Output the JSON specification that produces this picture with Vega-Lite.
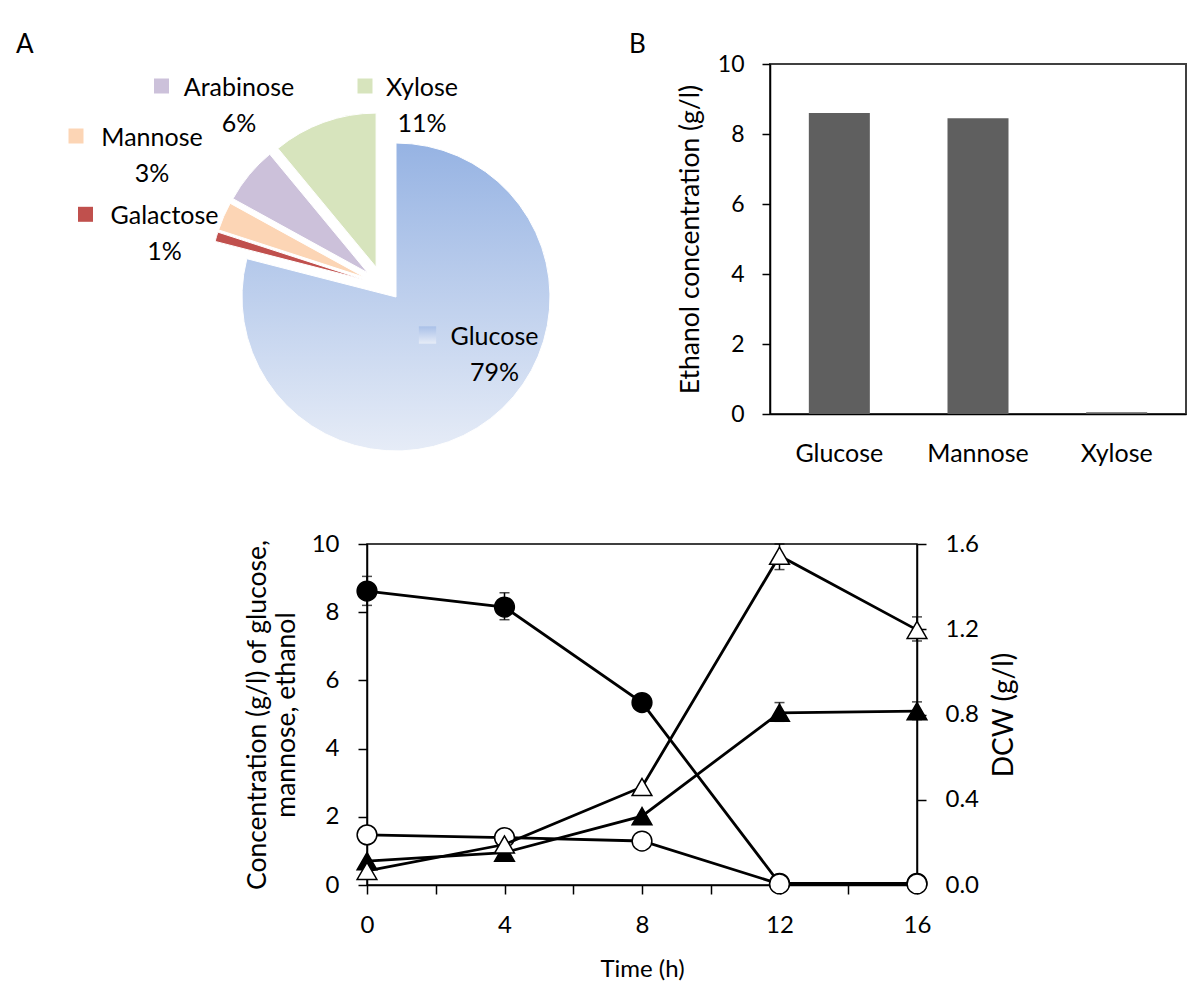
{
  "$schema": "https://vega.github.io/schema/vega-lite/v6.json",
  "autosize": {"type": "pad"},
  "padding": {"left": 16, "top": 31, "right": 5, "bottom": 5},
  "background": "white",
  "config": {
    "font": "Lato",
    "view": {"stroke": "#000000", "strokeWidth": 1.5},
    "axis": {"labelFont": "Lato", "titleFont": "Lato", "labelColor": "#000000", "titleColor": "#000000", "domainColor": "#000000", "tickColor": "#000000", "domainWidth": 1.5, "tickWidth": 1.5, "grid": false, "labelFontSize": 23, "titleFontSize": 26.5, "titleFontWeight": "normal", "labelFlush": false, "labelOverlap": false},
    "text": {"font": "Lato", "color": "#000000"}
  },
  "datasets": {
    "composition": [
      {"sugar": "Glucose", "share": 79, "label": "Glucose\n79%"},
      {"sugar": "Galactose", "share": 1, "label": "Galactose\n1%"},
      {"sugar": "Mannose", "share": 3, "label": "Mannose\n3%"},
      {"sugar": "Arabinose", "share": 6, "label": "Arabinose\n6%"},
      {"sugar": "Xylose", "share": 11, "label": "Xylose\n11%"}
    ],
    "ethanol": [
      {"sugar": "Glucose", "ethanol": 8.6},
      {"sugar": "Mannose", "ethanol": 8.45},
      {"sugar": "Xylose", "ethanol": 0.05}
    ],
    "timecourse": [
      {"series": "Glucose", "time": 0, "value": 8.62, "lo": 8.2, "hi": 9.05},
      {"series": "Glucose", "time": 4, "value": 8.15, "lo": 7.78, "hi": 8.57},
      {"series": "Glucose", "time": 8, "value": 5.35},
      {"series": "Glucose", "time": 12, "value": 0.05},
      {"series": "Glucose", "time": 16, "value": 0.05},
      {"series": "Mannose", "time": 0, "value": 1.47},
      {"series": "Mannose", "time": 4, "value": 1.39},
      {"series": "Mannose", "time": 8, "value": 1.29},
      {"series": "Mannose", "time": 12, "value": 0.03},
      {"series": "Mannose", "time": 16, "value": 0.03},
      {"series": "Ethanol", "time": 0, "value": 0.7},
      {"series": "Ethanol", "time": 4, "value": 0.95},
      {"series": "Ethanol", "time": 8, "value": 2.02},
      {"series": "Ethanol", "time": 12, "value": 5.05, "lo": 4.8, "hi": 5.35},
      {"series": "Ethanol", "time": 16, "value": 5.1, "lo": 4.85, "hi": 5.37},
      {"series": "DCW", "time": 0, "value": 0.066},
      {"series": "DCW", "time": 4, "value": 0.19},
      {"series": "DCW", "time": 8, "value": 0.46},
      {"series": "DCW", "time": 12, "value": 1.545, "lo": 1.48, "hi": 1.6},
      {"series": "DCW", "time": 16, "value": 1.197, "lo": 1.145, "hi": 1.258}
    ]
  },
  "spacing": 480,
  "bounds": "flush",
  "vconcat": [
    {
      "spacing": 372,
      "bounds": "flush",
      "hconcat": [
        {
          "width": 31,
          "height": 442,
          "view": {"stroke": null},
          "data": {"name": "composition"},
          "transform": [{"stack": "share", "groupby": [], "as": ["s0", "s1"]}],
          "layer": [
            {
              "transform": [{"filter": "datum.sugar === 'Glucose'"}],
              "mark": {"type": "arc", "radius": 154, "xOffset": 13.5, "yOffset": 12, "stroke": "#ffffff", "strokeWidth": 1,
                "fill": {"gradient": "linear", "x1": 0, "y1": 0, "x2": 0, "y2": 1, "stops": [{"offset": 0, "color": "#96b3e3"}, {"offset": 1, "color": "#e6ecf7"}]}},
              "encoding": {"theta": {"field": "s0", "type": "quantitative", "scale": {"domain": [0, 100]}}, "theta2": {"field": "s1"}}
            },
            {
              "transform": [{"filter": "datum.sugar === 'Galactose'"}],
              "mark": {"type": "arc", "radius": 154, "xOffset": -18.2, "yOffset": -5.3, "fill": "#c0504d", "stroke": "#ffffff", "strokeWidth": 1},
              "encoding": {"theta": {"field": "s0", "type": "quantitative", "scale": {"domain": [0, 100]}}, "theta2": {"field": "s1"}}
            },
            {
              "transform": [{"filter": "datum.sugar === 'Mannose'"}],
              "mark": {"type": "arc", "radius": 154, "xOffset": -17.4, "yOffset": -7.5, "fill": "#fcd5b5", "stroke": "#ffffff", "strokeWidth": 1},
              "encoding": {"theta": {"field": "s0", "type": "quantitative", "scale": {"domain": [0, 100]}}, "theta2": {"field": "s1"}}
            },
            {
              "transform": [{"filter": "datum.sugar === 'Arabinose'"}],
              "mark": {"type": "arc", "radius": 154, "xOffset": -14.6, "yOffset": -12.1, "fill": "#ccc1da", "stroke": "#ffffff", "strokeWidth": 1},
              "encoding": {"theta": {"field": "s0", "type": "quantitative", "scale": {"domain": [0, 100]}}, "theta2": {"field": "s1"}}
            },
            {
              "transform": [{"filter": "datum.sugar === 'Xylose'"}],
              "mark": {"type": "arc", "radius": 154, "xOffset": -6.4, "yOffset": -17.9, "fill": "#d7e4bd", "stroke": "#ffffff", "strokeWidth": 1},
              "encoding": {"theta": {"field": "s0", "type": "quantitative", "scale": {"domain": [0, 100]}}, "theta2": {"field": "s1"}}
            },
            {
              "transform": [{"filter": "datum.sugar === 'Glucose'"}],
              "mark": {"type": "text", "align": "center", "baseline": "top", "dx": 112, "dy": 40.3, "fontSize": 25, "lineHeight": 36, "lineBreak": "\n"},
              "encoding": {"text": {"field": "label"}}
            },
            {
              "transform": [{"filter": "datum.sugar === 'Galactose'"}],
              "mark": {"type": "text", "align": "center", "baseline": "top", "dx": -218, "dy": -80.7, "fontSize": 25, "lineHeight": 36, "lineBreak": "\n"},
              "encoding": {"text": {"field": "label"}}
            },
            {
              "transform": [{"filter": "datum.sugar === 'Mannose'"}],
              "mark": {"type": "text", "align": "center", "baseline": "top", "dx": -230.5, "dy": -159, "fontSize": 25, "lineHeight": 36, "lineBreak": "\n"},
              "encoding": {"text": {"field": "label"}}
            },
            {
              "transform": [{"filter": "datum.sugar === 'Arabinose'"}],
              "mark": {"type": "text", "align": "center", "baseline": "top", "dx": -143.5, "dy": -208.7, "fontSize": 25, "lineHeight": 36, "lineBreak": "\n"},
              "encoding": {"text": {"field": "label"}}
            },
            {
              "transform": [{"filter": "datum.sugar === 'Xylose'"}],
              "mark": {"type": "text", "align": "center", "baseline": "top", "dx": 39.5, "dy": -208.7, "fontSize": 25, "lineHeight": 36, "lineBreak": "\n"},
              "encoding": {"text": {"field": "label"}}
            },
            {
              "transform": [{"filter": "datum.sugar === 'Glucose'"}],
              "mark": {"type": "point", "shape": "square", "size": 300, "filled": true, "opacity": 1, "xOffset": 45, "yOffset": 50,
                "fill": {"gradient": "linear", "x1": 0, "y1": 0, "x2": 0, "y2": 1, "stops": [{"offset": 0, "color": "#a9c0e8"}, {"offset": 1, "color": "#e6ecf7"}]}},
              "encoding": {}
            },
            {
              "transform": [{"filter": "datum.sugar === 'Galactose'"}],
              "mark": {"type": "point", "shape": "square", "size": 225, "filled": true, "opacity": 1, "xOffset": -297, "yOffset": -70.7, "fill": "#c0504d"},
              "encoding": {}
            },
            {
              "transform": [{"filter": "datum.sugar === 'Mannose'"}],
              "mark": {"type": "point", "shape": "square", "size": 225, "filled": true, "opacity": 1, "xOffset": -306.5, "yOffset": -149, "fill": "#fcd5b5"},
              "encoding": {}
            },
            {
              "transform": [{"filter": "datum.sugar === 'Arabinose'"}],
              "mark": {"type": "point", "shape": "square", "size": 225, "filled": true, "opacity": 1, "xOffset": -221, "yOffset": -199, "fill": "#ccc1da"},
              "encoding": {}
            },
            {
              "transform": [{"filter": "datum.sugar === 'Xylose'"}],
              "mark": {"type": "point", "shape": "square", "size": 225, "filled": true, "opacity": 1, "xOffset": -17.5, "yOffset": -199, "fill": "#d7e4bd"},
              "encoding": {}
            },
            {
              "data": {"values": [{"panel": "A"}]},
              "mark": {"type": "text", "align": "left", "baseline": "top", "dx": -366.5, "dy": -253, "fontSize": 26},
              "encoding": {"text": {"field": "panel"}}
            }
          ]
        },
        {
          "width": 416,
          "height": 350,
          "view": {"stroke": "#404040", "strokeWidth": 2},
          "layer": [
            {
              "data": {"name": "ethanol"},
              "mark": {"type": "bar", "color": "#5f5f5f"},
              "encoding": {
                "x": {"field": "sugar", "type": "nominal", "sort": ["Glucose", "Mannose", "Xylose"],
                  "scale": {"paddingInner": 0.56, "paddingOuter": 0.28},
                  "axis": {"title": null, "ticks": false, "tickSize": 0, "labelPadding": 27, "labelFontSize": 25, "labelAngle": 0, "labelBaseline": "top"}},
                "y": {"field": "ethanol", "type": "quantitative", "scale": {"domain": [0, 10]},
                  "axis": {"title": "Ethanol concentration (g/l)", "values": [0, 2, 4, 6, 8, 10], "tickSize": 8, "labelPadding": 18, "titlePadding": 13}}
              }
            },
            {
              "data": {"values": [{"panel": "B"}]},
              "mark": {"type": "text", "align": "left", "baseline": "top", "dx": -349, "dy": -207, "fontSize": 26},
              "encoding": {"text": {"field": "panel"}}
            }
          ]
        }
      ]
    },
    {
      "width": 550,
      "height": 341,
      "data": {"name": "timecourse"},
      "encoding": {
        "x": {"field": "time", "type": "quantitative", "scale": {"domain": [0, 16]},
          "axis": {"title": "Time (h)", "titleFontSize": 24, "values": [0, 2, 4, 6, 8, 10, 12, 14, 16], "labelExpr": "datum.value % 4 === 0 ? datum.label : ''", "tickSize": 9, "labelPadding": 19, "titlePadding": 20, "labelFontSize": 24}}
      },
      "layer": [
        {
          "transform": [{"filter": "datum.series !== 'DCW'"}],
          "encoding": {
            "y": {"field": "value", "type": "quantitative", "scale": {"domain": [0, 10]},
              "axis": {"orient": "left", "title": ["Concentration (g/l) of glucose,", "mannose, ethanol"], "values": [0, 2, 4, 6, 8, 10], "tickSize": 9, "labelPadding": 19, "titlePadding": 11, "titleLineHeight": 29, "labelFontSize": 24}}
          },
          "layer": [
            {"mark": {"type": "line", "color": "#000000", "strokeWidth": 2.8}, "encoding": {"detail": {"field": "series"}}},
            {
              "transform": [{"filter": "isValid(datum.lo)"}],
              "mark": {"type": "errorbar", "color": "#000000", "thickness": 1.5, "ticks": {"size": 10}},
              "encoding": {
                "y": {"field": "lo", "type": "quantitative", "axis": {"title": ["Concentration (g/l) of glucose,", "mannose, ethanol"]}},
                "y2": {"field": "hi"}
              }
            },
            {
              "mark": {"type": "point", "filled": true, "size": 390, "stroke": "#000000", "strokeWidth": 1.5, "opacity": 1},
              "encoding": {
                "shape": {"field": "series", "type": "nominal", "scale": {"domain": ["Glucose", "Mannose", "Ethanol", "DCW"], "range": ["circle", "circle", "triangle-up", "triangle-up"]}, "legend": null},
                "fill": {"field": "series", "type": "nominal", "scale": {"domain": ["Glucose", "Mannose", "Ethanol", "DCW"], "range": ["#000000", "#ffffff", "#000000", "#ffffff"]}, "legend": null}
              }
            }
          ]
        },
        {
          "transform": [{"filter": "datum.series === 'DCW'"}],
          "encoding": {
            "y": {"field": "value", "type": "quantitative", "scale": {"domain": [0, 1.6]},
              "axis": {"orient": "right", "title": "DCW (g/l)", "values": [0, 0.4, 0.8, 1.2, 1.6], "format": ".1f", "tickSize": 9, "labelPadding": 19, "titlePadding": 12, "titleFontSize": 28, "titleAngle": 270, "titleBaseline": "top", "labelFontSize": 24}}
          },
          "layer": [
            {"mark": {"type": "line", "color": "#000000", "strokeWidth": 2.8}},
            {
              "transform": [{"filter": "isValid(datum.lo)"}],
              "mark": {"type": "errorbar", "color": "#000000", "thickness": 1.5, "ticks": {"size": 10}},
              "encoding": {
                "y": {"field": "lo", "type": "quantitative", "axis": {"title": "DCW (g/l)"}},
                "y2": {"field": "hi"}
              }
            },
            {
              "mark": {"type": "point", "filled": true, "size": 390, "stroke": "#000000", "strokeWidth": 1.5, "opacity": 1},
              "encoding": {
                "shape": {"field": "series", "type": "nominal", "scale": {"domain": ["Glucose", "Mannose", "Ethanol", "DCW"], "range": ["circle", "circle", "triangle-up", "triangle-up"]}, "legend": null},
                "fill": {"field": "series", "type": "nominal", "scale": {"domain": ["Glucose", "Mannose", "Ethanol", "DCW"], "range": ["#000000", "#ffffff", "#000000", "#ffffff"]}, "legend": null}
              }
            }
          ]
        },
        {
          "data": {"values": [{"panel": "C"}]},
          "mark": {"type": "text", "align": "left", "baseline": "top", "dx": -410, "dy": -202.5, "fontSize": 26},
          "encoding": {"text": {"field": "panel"}}
        }
      ],
      "resolve": {"scale": {"y": "independent"}, "axis": {"y": "independent"}}
    }
  ]
}
